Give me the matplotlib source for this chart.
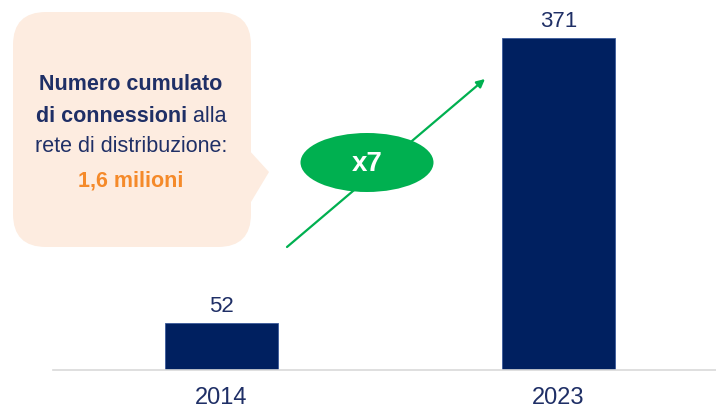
import matplotlib
matplotlib.use("Agg")
import matplotlib.pyplot as plt
from matplotlib.patches import FancyBboxPatch, Polygon, Ellipse

plt.rcParams['font.family'] = ['Liberation Sans Narrow', 'Liberation Sans', 'DejaVu Sans']

years = ['2014', '2023']
values = [52, 371]
growth_label = 'x7'

navy = '#002060'
text_navy = '#1F2F66'
green = '#00B050'
orange = '#F58A2A'
peach = '#FDECE0'

W, H = 716, 410
fig = plt.figure(figsize=(W / 100, H / 100), dpi=100)

# bar area: left edge at 53px, baseline at ~371px from top
ax = fig.add_axes([53 / W, (H - 370.7) / H, 1 - 53 / W, 370.7 / H])
x = range(len(years))
ax.bar(x, values, width=0.335, color=navy, edgecolor='#3A5A9A', linewidth=0.6, zorder=2)
ax.set_xlim(-0.5, 1.467)
ax.set_ylim(0, 371 * 370.7 / 331.7)
for s in ['top', 'right', 'left']:
    ax.spines[s].set_visible(False)
ax.spines['bottom'].set_color('#D9D9D9')
ax.spines['bottom'].set_linewidth(1.2)
ax.set_yticks([])
ax.set_xticks(list(x))
ax.set_xticklabels(years, fontsize=17, color=text_navy)
ax.tick_params(axis='x', length=0, pad=12)
for i, v in enumerate(values):
    ax.text(i, v + 8, str(v), ha='center', va='bottom', fontsize=16, color=text_navy)

# overlay in pixel coordinates for the callout, arrow and badge
ov = fig.add_axes([0, 0, 1, 1], zorder=5)
ov.set_xlim(0, W)
ov.set_ylim(H, 0)
ov.axis('off')
ov.patch.set_alpha(0)

box = FancyBboxPatch((13 + 33, 13 + 33), 238 - 66, 235 - 66,
                     boxstyle='round,pad=33', facecolor=peach, edgecolor='none')
ov.add_patch(box)
ov.add_patch(Polygon([(248, 150), (269, 173), (248, 208)], closed=True,
                     facecolor=peach, edgecolor='none'))

fs = 15.5
cx = 131
ov.text(cx, 85, 'Numero cumulato', ha='center', va='center', fontsize=fs,
        fontweight='bold', color=text_navy)
# mixed bold / regular line
fig.canvas.draw()
r = fig.canvas.get_renderer()
t1 = ov.text(0, 116, 'di connessioni', ha='left', va='center', fontsize=fs,
             fontweight='bold', color=text_navy)
t2 = ov.text(0, 116, ' alla', ha='left', va='center', fontsize=fs, color=text_navy)
w1 = t1.get_window_extent(r).width
w2 = t2.get_window_extent(r).width
x0 = cx - (w1 + w2) / 2
t1.set_x(x0)
t2.set_x(x0 + w1)
ov.text(cx, 147, 'rete di distribuzione:', ha='center', va='center', fontsize=fs,
        color=text_navy)
ov.text(cx, 181, '1,6 milioni', ha='center', va='center', fontsize=fs,
        fontweight='bold', color=orange)

ov.annotate('', xy=(485, 80), xytext=(287, 248),
            arrowprops=dict(arrowstyle='-|>', color=green, lw=1.6,
                            mutation_scale=12, shrinkA=0, shrinkB=0))
ov.add_patch(Ellipse((367, 163.5), 133, 59, facecolor=green, edgecolor='none'))
ov.text(367, 164, growth_label, ha='center', va='center', fontsize=20,
        fontweight='bold', color='white')

fig.savefig('out.png', dpi=100)
